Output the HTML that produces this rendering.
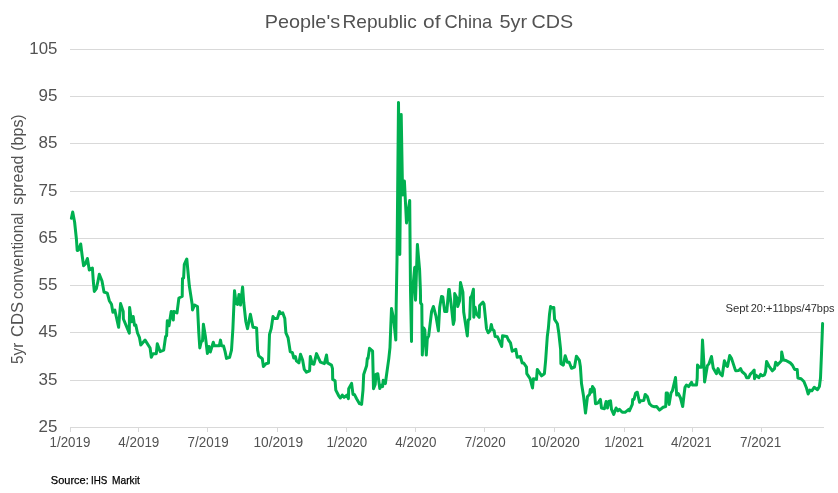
<!DOCTYPE html>
<html lang="en">
<head>
<meta charset="utf-8">
<title>People's Republic of China 5yr CDS</title>
<style>
html,body{margin:0;padding:0;background:#ffffff;}
body{width:838px;height:493px;overflow:hidden;}
svg{display:block;}
text{font-family:"Liberation Sans",Arial,Helvetica,sans-serif;}
</style>
</head>
<body>
<svg width="838" height="493" viewBox="0 0 838 493">
<rect x="0" y="0" width="838" height="493" fill="#ffffff"/>
<g fill="#d9d9d9" shape-rendering="crispEdges">
<rect x="70" y="49" width="754" height="1"/>
<rect x="70" y="96" width="754" height="1"/>
<rect x="70" y="143" width="754" height="1"/>
<rect x="70" y="191" width="754" height="1"/>
<rect x="70" y="238" width="754" height="1"/>
<rect x="70" y="285" width="754" height="1"/>
<rect x="70" y="332" width="754" height="1"/>
<rect x="70" y="380" width="754" height="1"/>
<rect x="70" y="427" width="754" height="1"/>
<rect x="70" y="428" width="1" height="4"/>
<rect x="138" y="428" width="1" height="4"/>
<rect x="207" y="428" width="1" height="4"/>
<rect x="277" y="428" width="1" height="4"/>
<rect x="346" y="428" width="1" height="4"/>
<rect x="415" y="428" width="1" height="4"/>
<rect x="484" y="428" width="1" height="4"/>
<rect x="554" y="428" width="1" height="4"/>
<rect x="624" y="428" width="1" height="4"/>
<rect x="692" y="428" width="1" height="4"/>
<rect x="761" y="428" width="1" height="4"/>
</g>
<text x="29.37" y="54.00" font-size="17.2" fill="#525252" textLength="28.05" lengthAdjust="spacingAndGlyphs">105</text>
<text x="38.50" y="101.00" font-size="17.2" fill="#525252" textLength="18.90" lengthAdjust="spacingAndGlyphs">95</text>
<text x="38.50" y="148.00" font-size="17.2" fill="#525252" textLength="18.90" lengthAdjust="spacingAndGlyphs">85</text>
<text x="38.50" y="196.00" font-size="17.2" fill="#525252" textLength="18.90" lengthAdjust="spacingAndGlyphs">75</text>
<text x="38.50" y="243.00" font-size="17.2" fill="#525252" textLength="18.90" lengthAdjust="spacingAndGlyphs">65</text>
<text x="38.50" y="290.00" font-size="17.2" fill="#525252" textLength="18.90" lengthAdjust="spacingAndGlyphs">55</text>
<text x="38.50" y="337.00" font-size="17.2" fill="#525252" textLength="18.90" lengthAdjust="spacingAndGlyphs">45</text>
<text x="38.50" y="385.00" font-size="17.2" fill="#525252" textLength="18.90" lengthAdjust="spacingAndGlyphs">35</text>
<text x="38.50" y="432.00" font-size="17.2" fill="#525252" textLength="18.90" lengthAdjust="spacingAndGlyphs">25</text>
<text x="49.56" y="447.00" font-size="14.4" fill="#525252" textLength="40.77" lengthAdjust="spacingAndGlyphs">1/2019</text>
<text x="118.20" y="447.00" font-size="14.4" fill="#525252" textLength="41.17" lengthAdjust="spacingAndGlyphs">4/2019</text>
<text x="187.61" y="447.00" font-size="14.4" fill="#525252" textLength="40.99" lengthAdjust="spacingAndGlyphs">7/2019</text>
<text x="253.38" y="447.00" font-size="14.4" fill="#525252" textLength="49.69" lengthAdjust="spacingAndGlyphs">10/2019</text>
<text x="326.42" y="447.00" font-size="14.4" fill="#525252" textLength="40.84" lengthAdjust="spacingAndGlyphs">1/2020</text>
<text x="395.31" y="447.00" font-size="14.4" fill="#525252" textLength="41.05" lengthAdjust="spacingAndGlyphs">4/2020</text>
<text x="464.78" y="447.00" font-size="14.4" fill="#525252" textLength="40.98" lengthAdjust="spacingAndGlyphs">7/2020</text>
<text x="530.88" y="447.00" font-size="14.4" fill="#525252" textLength="48.88" lengthAdjust="spacingAndGlyphs">10/2020</text>
<text x="604.16" y="447.00" font-size="14.4" fill="#525252" textLength="39.93" lengthAdjust="spacingAndGlyphs">1/2021</text>
<text x="671.00" y="447.00" font-size="14.4" fill="#525252" textLength="40.65" lengthAdjust="spacingAndGlyphs">4/2021</text>
<text x="740.04" y="447.00" font-size="14.4" fill="#525252" textLength="41.27" lengthAdjust="spacingAndGlyphs">7/2021</text>
<text y="28.20" font-size="19.0" fill="#525252"><tspan x="264.68" textLength="75.41" lengthAdjust="spacingAndGlyphs">People's</tspan> <tspan x="342.48" textLength="74.35" lengthAdjust="spacingAndGlyphs">Republic</tspan> <tspan x="423.04" textLength="17.45" lengthAdjust="spacingAndGlyphs">of</tspan> <tspan x="444.50" textLength="47.80" lengthAdjust="spacingAndGlyphs">China</tspan> <tspan x="499.41" textLength="27.68" lengthAdjust="spacingAndGlyphs">5yr</tspan> <tspan x="531.51" textLength="41.70" lengthAdjust="spacingAndGlyphs">CDS</tspan></text>
<text transform="translate(23.00 0) rotate(-90)" y="0" font-size="17.2" fill="#525252"><tspan x="-363.96" textLength="21.22" lengthAdjust="spacingAndGlyphs">5yr</tspan> <tspan x="-337.10" textLength="35.10" lengthAdjust="spacingAndGlyphs">CDS</tspan> <tspan x="-298.99" textLength="86.07" lengthAdjust="spacingAndGlyphs">conventional</tspan> <tspan x="-204.64" textLength="48.96" lengthAdjust="spacingAndGlyphs">spread</tspan> <tspan x="-150.71" textLength="36.40" lengthAdjust="spacingAndGlyphs">(bps)</tspan></text>
<text y="311.60" font-size="10.9" fill="#303030"><tspan x="725.42" textLength="23.27" lengthAdjust="spacingAndGlyphs">Sept</tspan> <tspan x="750.73" textLength="83.88" lengthAdjust="spacingAndGlyphs">20:+11bps/47bps</tspan></text>
<text y="483.80" font-size="11.0" fill="#000000" stroke="#000000" stroke-width="0.25"><tspan x="50.80" textLength="38.01" lengthAdjust="spacingAndGlyphs">Source:</tspan> <tspan x="90.99" textLength="16.34" lengthAdjust="spacingAndGlyphs">IHS</tspan> <tspan x="112.04" textLength="27.73" lengthAdjust="spacingAndGlyphs">Markit</tspan></text>
<path d="M71.4 218.3 L72.7 212.0 L74.6 222.0 L76.4 239.0 L77.2 250.5 L78.5 250.0 L80.7 244.0 L82.2 256.0 L83.6 265.7 L85.3 264.0 L87.4 258.5 L89.3 270.0 L92.4 268.0 L93.3 281.0 L94.3 291.4 L96.4 288.5 L98.0 281.0 L99.3 274.3 L102.0 281.0 L104.0 292.0 L107.3 293.2 L109.3 300.7 L111.5 304.3 L112.9 312.2 L114.8 310.0 L118.6 327.3 L119.6 315.0 L120.6 303.6 L123.2 311.5 L123.4 319.0 L129.3 333.2 L129.4 320.0 L129.6 307.4 L131.5 321.8 L133.2 316.5 L134.5 325.3 L135.8 325.0 L137.5 333.0 L139.4 337.3 L140.8 345.1 L145.1 340.1 L150.1 348.0 L151.3 357.3 L153.0 353.7 L156.3 353.7 L157.3 343.7 L160.1 351.6 L163.7 350.1 L165.6 336.5 L166.6 335.8 L167.3 320.8 L169.0 325.8 L171.2 311.5 L173.3 320.0 L173.7 311.5 L177.0 312.9 L178.9 298.0 L182.2 296.5 L182.5 278.6 L183.6 278.0 L184.3 264.3 L186.8 259.0 L189.3 285.8 L192.2 304.4 L192.5 310.0 L194.6 305.0 L197.5 306.5 L198.8 333.0 L199.8 348.0 L201.2 341.6 L202.5 341.0 L203.4 324.3 L205.4 336.5 L207.4 353.5 L208.9 346.5 L210.3 352.0 L213.3 342.2 L214.3 345.8 L219.3 345.8 L220.5 340.1 L221.5 345.8 L223.6 346.1 L225.1 351.6 L226.5 358.4 L229.6 357.3 L231.5 350.1 L232.9 328.6 L234.5 290.7 L236.2 303.7 L237.6 304.4 L239.0 294.4 L240.5 305.0 L242.6 287.0 L243.8 303.0 L245.8 321.5 L247.5 328.6 L250.4 314.3 L253.0 327.2 L256.6 327.9 L257.6 350.1 L258.7 355.9 L262.3 358.7 L263.4 366.6 L265.9 363.7 L268.5 363.0 L269.5 334.4 L271.2 328.6 L273.0 316.5 L274.5 318.6 L277.3 318.6 L279.5 311.5 L280.9 313.6 L282.8 312.9 L284.8 318.6 L285.9 332.9 L288.1 337.9 L290.2 351.6 L292.4 352.7 L293.8 358.0 L295.4 356.5 L296.4 360.8 L298.9 362.9 L300.5 354.3 L302.6 360.0 L304.3 369.4 L306.5 372.2 L309.6 370.8 L310.3 356.5 L312.2 363.6 L313.9 364.3 L316.5 353.6 L320.4 362.2 L324.4 363.6 L326.5 355.0 L327.5 362.9 L331.5 365.1 L332.5 368.6 L332.7 379.4 L335.1 380.8 L335.8 390.1 L338.7 395.8 L340.4 398.0 L342.3 395.1 L344.1 397.3 L346.9 395.1 L348.4 398.7 L348.7 388.7 L351.6 383.4 L353.0 394.4 L354.4 394.4 L356.6 398.7 L359.5 403.7 L361.6 404.4 L363.0 390.1 L363.7 374.4 L366.6 365.8 L367.3 358.6 L368.0 358.6 L369.5 348.3 L372.6 351.2 L373.5 388.7 L375.2 384.4 L375.9 374.4 L377.8 373.7 L379.8 388.5 L381.3 385.4 L382.6 386.6 L383.2 380.3 L385.4 383.6 L386.0 378.7 L388.8 358.6 L390.0 347.3 L390.8 325.8 L391.5 308.6 L393.6 318.6 L395.8 340.1 L396.2 304.3 L397.0 260.0 L398.5 102.5 L399.8 254.5 L401.2 114.5 L402.6 195.0 L404.4 181.0 L406.5 223.0 L409.7 200.5 L410.5 290.0 L411.5 341.5 L411.8 300.0 L413.5 281.0 L414.7 267.5 L415.4 267.0 L415.5 300.2 L417.4 244.5 L419.6 270.0 L420.4 290.0 L420.6 303.0 L421.8 304.5 L422.3 355.1 L423.7 327.9 L424.8 330.0 L426.3 355.1 L427.3 338.7 L428.7 335.8 L431.6 311.5 L433.4 306.5 L435.9 315.8 L438.4 330.8 L439.7 307.2 L441.5 296.5 L442.8 297.0 L444.7 311.5 L446.8 311.5 L448.7 289.6 L449.3 289.6 L451.5 307.2 L453.3 324.4 L454.3 320.1 L454.7 293.6 L456.9 297.9 L457.7 306.5 L459.6 300.8 L460.5 282.6 L462.9 292.2 L463.7 312.0 L467.3 335.9 L468.3 320.0 L469.7 319.0 L470.5 297.5 L471.8 295.8 L473.4 289.3 L473.8 317.3 L475.1 307.2 L476.6 314.0 L479.2 317.3 L479.6 305.5 L483.0 302.2 L484.0 304.0 L485.8 321.6 L486.5 328.7 L488.2 332.8 L490.2 330.5 L491.3 324.4 L492.3 329.0 L494.1 330.9 L495.1 336.5 L497.5 336.8 L499.3 340.8 L501.7 346.5 L502.5 335.8 L506.8 336.4 L508.4 340.0 L510.5 342.9 L512.2 351.2 L515.8 349.3 L517.2 357.2 L520.4 356.5 L522.2 363.0 L523.7 363.0 L526.5 367.2 L526.8 373.7 L530.1 378.7 L532.5 388.0 L533.4 378.7 L536.5 379.4 L537.3 369.4 L541.6 375.8 L544.4 373.7 L545.6 360.8 L547.3 336.5 L548.4 328.0 L549.5 314.4 L550.6 306.5 L552.0 308.0 L553.8 307.5 L554.6 319.4 L557.4 323.7 L558.8 333.0 L560.6 349.3 L560.9 363.7 L563.3 365.1 L565.2 355.8 L567.3 362.2 L569.2 362.2 L571.5 368.3 L574.5 367.0 L576.4 356.2 L579.4 360.4 L580.4 366.8 L581.5 383.6 L583.6 396.5 L585.5 413.0 L587.5 396.5 L589.6 394.4 L590.3 389.4 L591.5 392.2 L592.5 386.5 L594.3 389.4 L595.5 403.7 L597.9 403.0 L600.4 399.4 L601.5 408.0 L604.4 408.7 L606.1 401.5 L607.5 408.0 L608.7 401.5 L610.5 400.8 L611.5 409.4 L613.7 414.4 L616.1 408.0 L618.0 410.8 L619.4 409.4 L622.3 412.3 L625.1 412.3 L628.7 409.4 L629.4 410.8 L632.3 404.4 L632.7 399.4 L634.0 399.4 L635.6 393.0 L637.3 392.2 L639.5 402.3 L640.6 400.8 L643.8 400.5 L645.2 394.4 L647.3 396.5 L649.5 403.7 L651.6 405.8 L654.5 406.8 L656.6 406.5 L659.5 410.1 L663.1 407.3 L665.7 406.5 L666.2 393.0 L667.4 393.0 L669.1 404.4 L671.0 393.0 L672.4 390.8 L675.5 377.5 L676.7 395.1 L678.4 393.7 L680.5 398.0 L682.7 406.5 L684.0 395.1 L685.0 387.3 L686.4 385.1 L688.6 386.6 L691.5 382.3 L692.6 385.1 L696.5 385.1 L697.2 378.0 L697.5 365.1 L699.3 367.2 L701.5 367.2 L702.5 340.0 L703.9 363.6 L704.6 382.0 L707.4 365.6 L709.1 363.6 L711.5 356.5 L713.2 367.9 L716.5 373.7 L718.0 368.6 L720.1 373.7 L722.2 375.8 L724.4 360.8 L726.5 365.8 L727.5 366.5 L729.7 355.5 L731.6 358.6 L735.1 369.4 L735.8 370.8 L738.7 370.5 L740.6 368.6 L741.9 371.5 L745.2 374.4 L746.6 377.7 L748.7 377.7 L750.2 374.4 L752.3 372.2 L754.2 370.1 L754.5 378.7 L755.9 375.1 L758.8 377.7 L760.6 374.4 L762.3 375.8 L764.5 374.8 L765.6 371.5 L766.6 361.5 L768.8 365.8 L772.4 370.8 L774.5 368.6 L775.7 362.2 L777.4 365.1 L781.4 360.8 L781.7 352.0 L783.4 360.1 L786.0 360.5 L790.3 362.9 L792.4 365.1 L794.6 369.4 L797.2 369.4 L797.9 378.0 L801.1 378.7 L803.9 381.5 L806.5 388.0 L808.2 394.0 L809.9 390.1 L811.8 390.8 L814.2 387.3 L817.5 389.7 L819.4 386.5 L820.5 378.0 L821.5 353.6 L822.6 323.5" fill="none" stroke="#00b050" stroke-width="3.0" stroke-linejoin="round" stroke-linecap="round"/>
</svg>
</body>
</html>
